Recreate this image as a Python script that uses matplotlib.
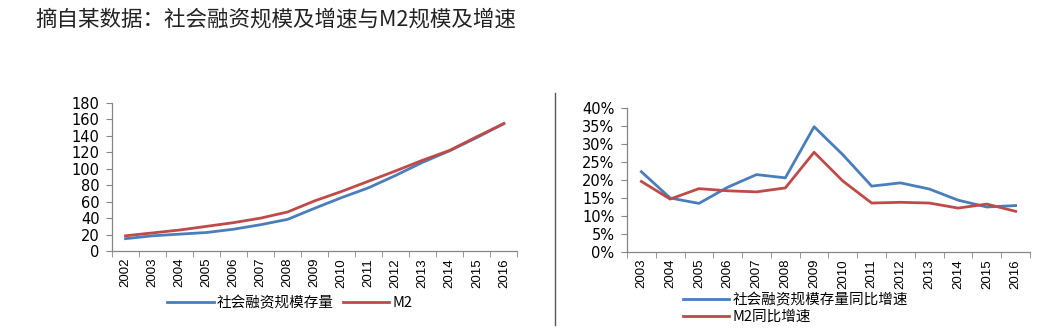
import matplotlib.pyplot as plt
import numpy as np
from matplotlib.ticker import FuncFormatter, FixedLocator

plt.rcParams['font.family'] = ['Noto Sans CJK SC', 'DejaVu Sans']

# 数据 ------------------------------------------------------------
years_left = ['2002', '2003', '2004', '2005', '2006', '2007', '2008', '2009',
              '2010', '2011', '2012', '2013', '2014', '2015', '2016']
tsf_stock = [15, 18.5, 20.5, 22.5, 26.5, 32, 38.5, 52, 65, 77, 92, 108, 122, 138, 155]
m2_stock = [18.5, 22, 25.5, 30, 34.5, 40, 47.5, 61, 72.5, 85, 97.5, 110.5, 122.5, 139, 155]

years_right = years_left[1:]
tsf_growth = [22.3, 15.0, 13.5, 18.0, 21.5, 20.6, 34.8, 27.0, 18.3, 19.2, 17.5, 14.4, 12.5, 12.9]
m2_growth = [19.6, 14.7, 17.6, 17.0, 16.7, 17.8, 27.7, 19.7, 13.6, 13.8, 13.6, 12.2, 13.3, 11.3]

blue = '#4a7ebb'
red = '#be4b48'
axis_col = '#868686'


def style_axes(ax, n):
    for s in ['top', 'right']:
        ax.spines[s].set_visible(False)
    for s in ['left', 'bottom']:
        ax.spines[s].set_color(axis_col)
        ax.spines[s].set_linewidth(0.9)
    ax.set_xlim(-0.5, n - 0.5)
    ax.set_xticks(range(n))
    ax.xaxis.set_minor_locator(FixedLocator(np.arange(-0.5, n, 1.0)))
    ax.tick_params(axis='x', which='major', length=0, labelsize=9.5, rotation=90, pad=5)
    ax.tick_params(axis='x', which='minor', length=4, color=axis_col, direction='out')
    ax.tick_params(axis='y', length=4, color=axis_col, direction='out', labelsize=10.5, pad=5)
    for lb in ax.get_xticklabels():
        lb.set_family(['Liberation Sans', 'DejaVu Sans'])
    for lb in ax.get_yticklabels():
        lb.set_family(['DejaVu Sans'])


fig = plt.figure(figsize=(10.42, 3.31), dpi=100)

fig.text(0.034, 0.94, '摘自某数据：社会融资规模及增速与M2规模及增速', fontsize=15.5,
         color='#222222', va='center')

# 分隔线
fig.add_artist(plt.Line2D([0.5325, 0.5325], [0.018, 0.72], color='#555555', lw=1.0))

# 左图 ------------------------------------------------------------
ax1 = fig.add_axes([0.1075, 0.2417, 0.389, 0.447])
x1 = np.arange(len(years_left))
l1, = ax1.plot(x1, tsf_stock, color=blue, lw=2.0, label='社会融资规模存量')
l2, = ax1.plot(x1, m2_stock, color=red, lw=2.0, label='M2')
ax1.set_ylim(0, 180)
ax1.set_yticks(range(0, 181, 20))
ax1.set_xticklabels(years_left)
style_axes(ax1, len(years_left))
fig.legend(handles=[l1, l2], loc='center', bbox_to_anchor=(0.278, 0.085), ncol=2,
           frameon=False, fontsize=10.5, handlelength=3.2, columnspacing=0.6,
           handletextpad=0.2, borderpad=0)

# 右图 ------------------------------------------------------------
ax2 = fig.add_axes([0.6017, 0.2387, 0.3868, 0.435])
x2 = np.arange(len(years_right))
r1, = ax2.plot(x2, tsf_growth, color=blue, lw=2.0, label='社会融资规模存量同比增速')
r2, = ax2.plot(x2, m2_growth, color=red, lw=2.0, label='M2同比增速')
ax2.set_ylim(0, 40)
ax2.set_yticks(range(0, 41, 5))
ax2.yaxis.set_major_formatter(FuncFormatter(lambda v, p: '%d%%' % v))
ax2.set_xticklabels(years_right)
style_axes(ax2, len(years_right))
fig.legend(handles=[r1, r2], loc='center left', bbox_to_anchor=(0.648, 0.068), ncol=1,
           frameon=False, fontsize=10.5, handlelength=3.2, handletextpad=0.2,
           labelspacing=0.2, borderpad=0)

fig.savefig('out.png', dpi=100)
